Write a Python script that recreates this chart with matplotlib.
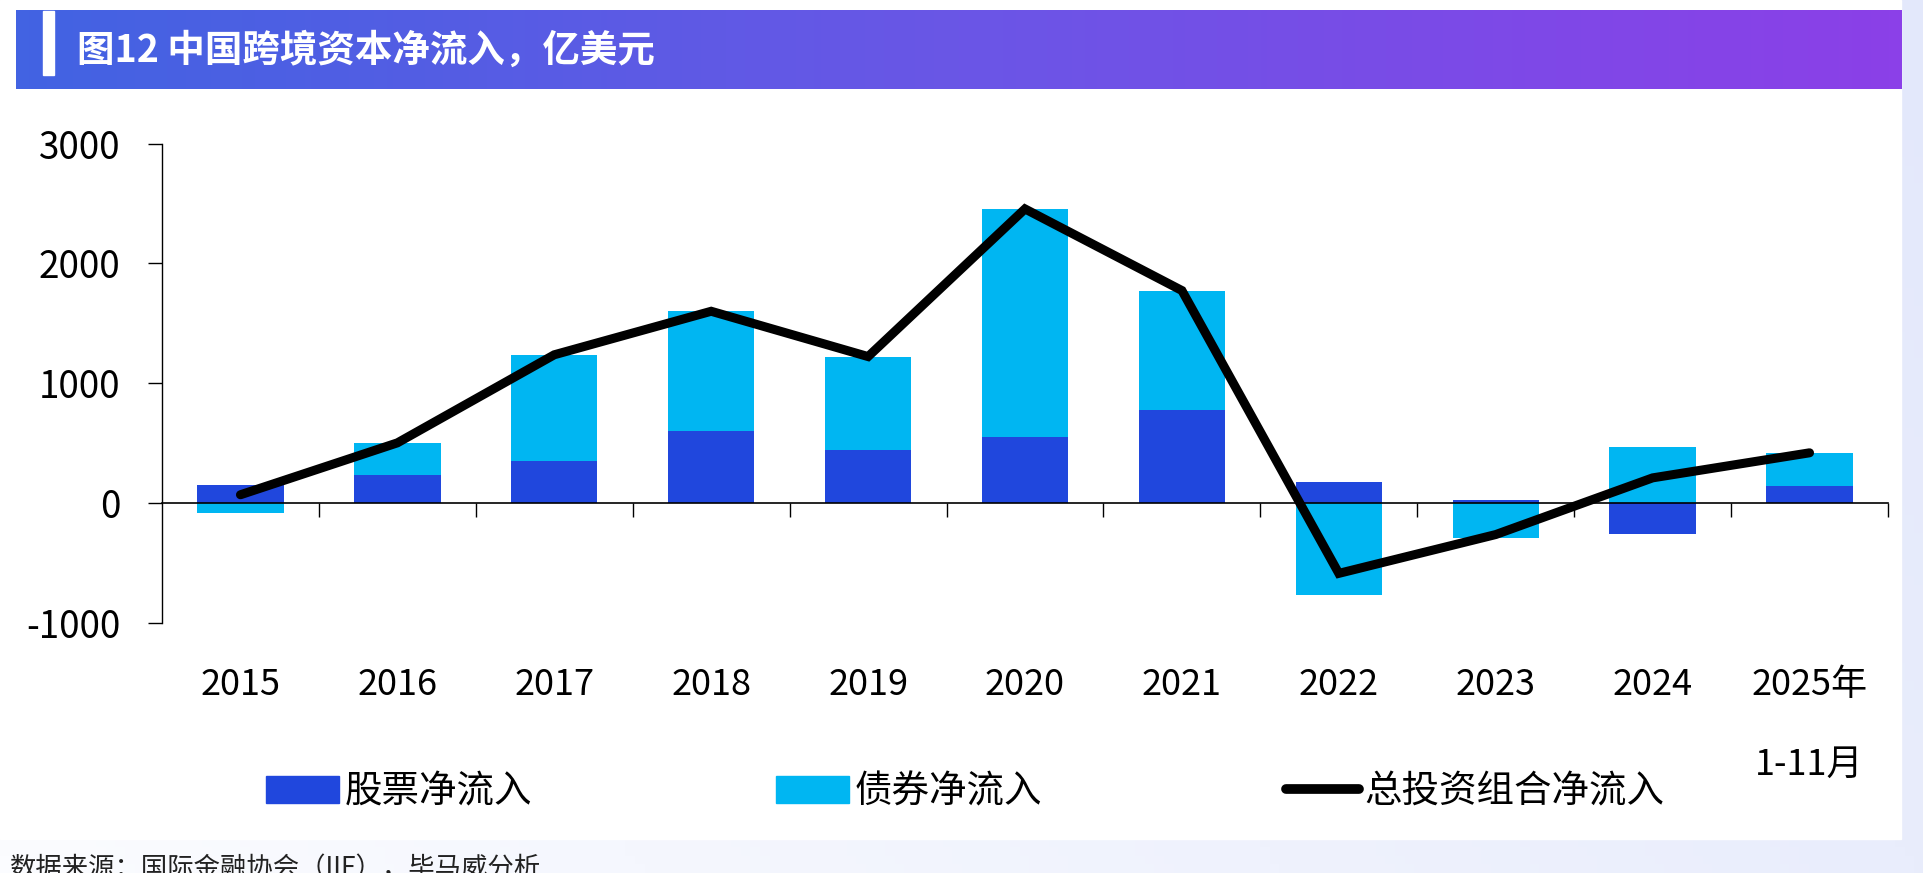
import numpy as np
import matplotlib
matplotlib.use("Agg")
import matplotlib.pyplot as plt
from matplotlib.colors import LinearSegmentedColormap
from matplotlib.patches import Rectangle, Patch
from matplotlib.lines import Line2D

plt.rcParams['font.family'] = ['Noto Sans CJK SC', 'DejaVu Sans']
plt.rcParams['axes.unicode_minus'] = False

# Data (100 million USD)
categories = ['2015', '2016', '2017', '2018', '2019', '2020', '2021',
              '2022', '2023', '2024', '2025年\n1-11月']
equity = [150, 232, 354, 604, 446, 548, 777, 179, 30, -259, 143]
bond = [-80, 271, 884, 997, 777, 1907, 997, -765, -292, 470, 277]
total = [70, 503, 1238, 1601, 1223, 2455, 1774, -586, -262, 211, 420]

W, H = 1924, 873
fig = plt.figure(figsize=(W / 100, H / 100), dpi=100)

# background: light gradient with a white panel
bg = fig.add_axes([0, 0, 1, 1], zorder=-10)
gx = np.linspace(0, 1, 200)
gy = np.linspace(0, 1, 100)
grad = 0.75 * gx[None, :] + 0.25 * gy[:, None]
bg.imshow(grad, aspect='auto', extent=[0, 1, 0, 1], origin='lower',
          cmap=LinearSegmentedColormap.from_list('bg', ['#fbfcff', '#e3e8fb']))
bg.add_patch(Rectangle((0, 1 - 839 / H), 1901 / W, 839 / H, color='white'))
bg.set_xlim(0, 1)
bg.set_ylim(0, 1)
bg.axis('off')

# title banner
ban = fig.add_axes([16 / W, 1 - 89 / H, (1902 - 16) / W, 79 / H], zorder=-5)
ban.imshow(np.linspace(0, 1, 300)[None, :], aspect='auto',
           cmap=LinearSegmentedColormap.from_list('ban', ['#4263e2', '#6a56e6', '#8b40e8']))
ban.axis('off')
fig.patches.append(Rectangle((43 / W, 1 - 75 / H), 11 / W, 64 / H, color='white',
                             transform=fig.transFigure, zorder=5))
fig.text(77 / W, 1 - 50 / H, '图12 中国跨境资本净流入，亿美元', color='white',
         fontsize=27, fontweight='bold', va='center', ha='left')

# main chart
ax = fig.add_axes([162 / W, 1 - 623 / H, (1888 - 162) / W, (623 - 143.6) / H])
ax.set_facecolor('none')
x = np.arange(len(categories))
c_eq = '#2047dd'
c_bd = '#00b6f2'
eq = np.array(equity)
bd = np.array(bond)
bottom = np.where(np.sign(eq) == np.sign(bd), eq, 0)
ax.bar(x, eq, width=0.55, color=c_eq, zorder=1)
ax.bar(x, bd, width=0.55, bottom=bottom, color=c_bd, zorder=1)
ax.plot(x, total, color='black', lw=6.5, solid_capstyle='round',
        solid_joinstyle='miter', zorder=3)

ax.set_xlim(-0.5, len(categories) - 0.5)
ax.set_ylim(-1000, 3000)
ax.set_yticks([-1000, 0, 1000, 2000, 3000])
ax.spines['top'].set_visible(False)
ax.spines['right'].set_visible(False)
ax.spines['bottom'].set_position(('data', 0))
ax.spines['left'].set_linewidth(1)
ax.spines['bottom'].set_linewidth(1.2)
ax.tick_params(axis='y', length=10, width=1, pad=20, labelsize=26.5)
ax.set_xticks(x, labels=categories)
ax.set_xticks(np.arange(0.5, len(categories)), minor=True)
ax.tick_params(axis='x', which='major', length=0, pad=118, labelsize=26)
ax.tick_params(axis='x', which='minor', length=10, width=1)
for lab in ax.get_xticklabels():
    lab.set_linespacing(2.55)

# legend
handles = [Patch(color=c_eq, label='股票净流入'),
           Patch(color=c_bd, label='债券净流入'),
           Line2D([], [], color='black', lw=7, solid_capstyle='round', label='总投资组合净流入')]
fig.legend(handles=handles, ncol=3, loc='center left',
           bbox_to_anchor=(232 / W, 1 - 792 / H), frameon=False, fontsize=27,
           handlelength=1.95, handleheight=0.75, handletextpad=0.15, columnspacing=6.5)

# footer
fig.text(10 / W, 1 - 855 / H, '数据来源：国际金融协会（IIF），毕马威分析',
         fontsize=19, va='top', ha='left', color='#222222')

fig.savefig('out.png', dpi=100)
